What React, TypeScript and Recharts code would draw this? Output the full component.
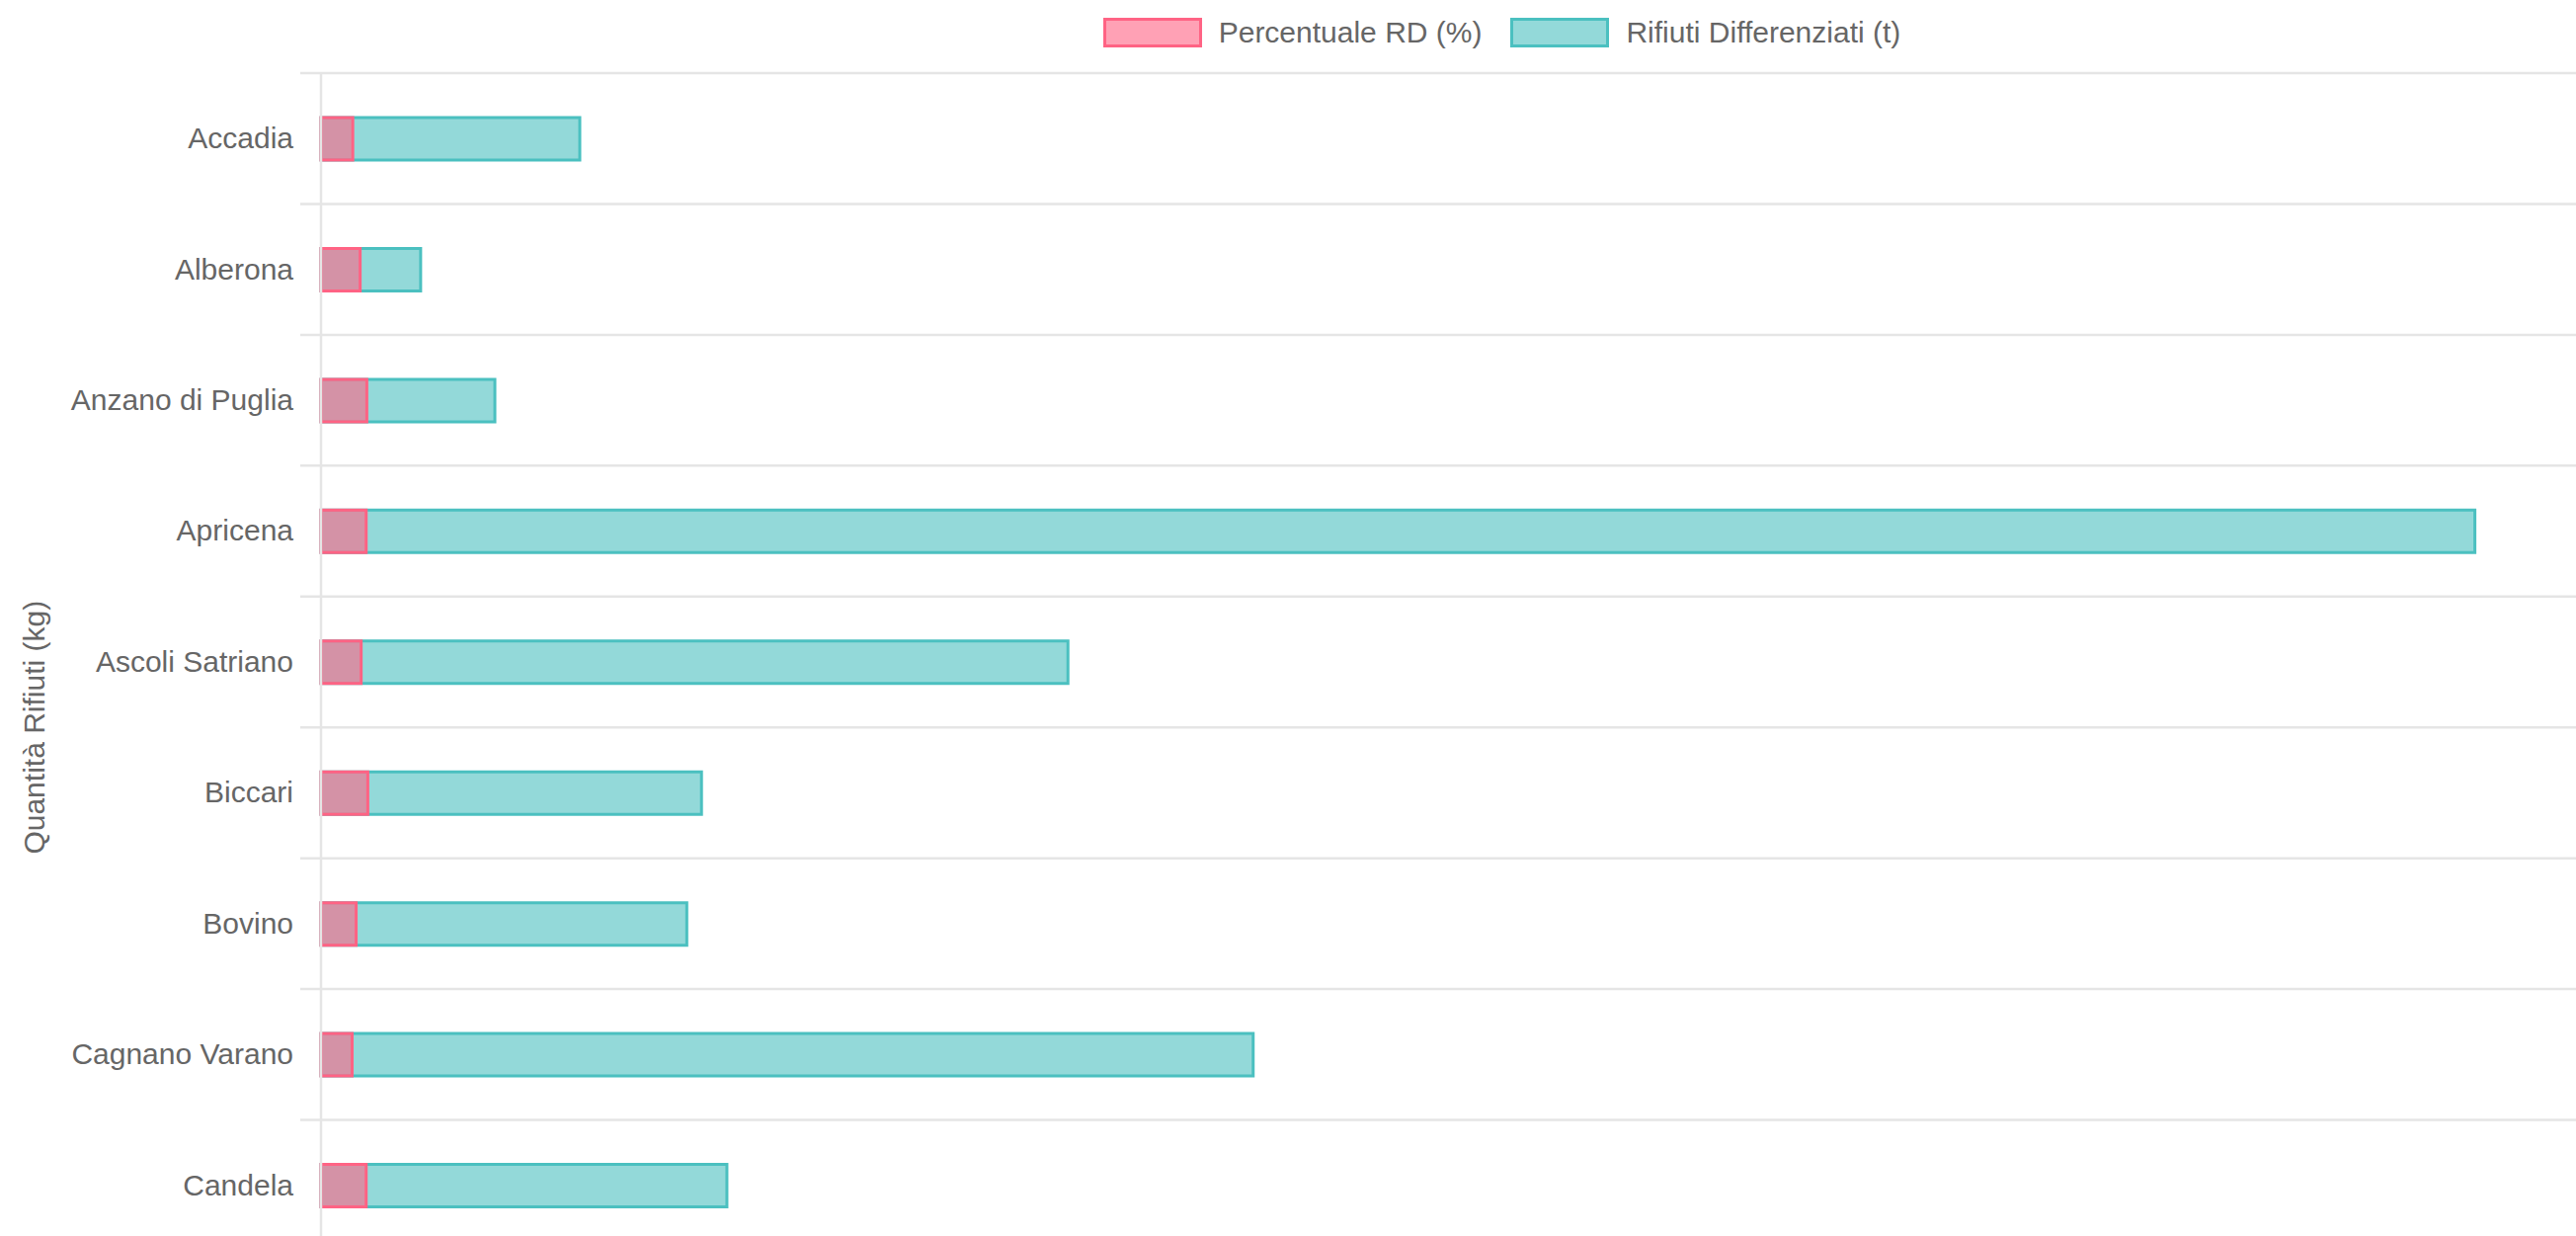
import { BarChart, Bar, XAxis, YAxis, Legend } from 'recharts';

const comuni = [
  'Accadia',
  'Alberona',
  'Anzano di Puglia',
  'Apricena',
  'Ascoli Satriano',
  'Biccari',
  'Bovino',
  'Cagnano Varano',
  'Candela',
];
const percentualeRD = [47.5, 58.5, 68.5, 67.5, 60, 70, 52.5, 46.5, 67.5];
const rifiutiDifferenziati = [387, 149, 260, 3221, 1117, 569, 547, 1394, 607];

const data = comuni.map((name, i) => ({
  name,
  rd: percentualeRD[i],
  rifiuti: rifiutiDifferenziati[i],
}));

const FONT = '"Liberation Sans", Arial, Helvetica, sans-serif';
const TEXT = '#666666';
const GRID = '#e5e5e5';
const PINK = 'rgb(255, 99, 132)';
const TEAL = 'rgb(75, 192, 192)';

const CHART_W = 3042;
const LEGEND_H = 74;
const PLOT_H = 1192;
const BAND = PLOT_H / comuni.length;
const AXIS_W = 325;

const legendItems = [
  { label: 'Percentuale RD (%)', color: PINK, fill: 'rgba(255, 99, 132, 0.6)' },
  { label: 'Rifiuti Differenziati (t)', color: TEAL, fill: 'rgba(75, 192, 192, 0.6)' },
];

const LegendContent = () => (
  <div
    style={{
      height: LEGEND_H,
      display: 'flex',
      justifyContent: 'center',
      alignItems: 'flex-start',
      paddingTop: 18,
      paddingLeft: 8,
      boxSizing: 'border-box',
      fontFamily: FONT,
      fontSize: 30,
      color: TEXT,
    }}
  >
    {legendItems.map((it, i) => (
      <div key={it.label} style={{ display: 'flex', alignItems: 'center', marginLeft: i ? 29 : 0, height: 30 }}>
        <span
          style={{
            width: 100,
            height: 30,
            boxSizing: 'border-box',
            background: it.fill,
            border: `3px solid ${it.color}`,
            marginRight: 17,
          }}
        />
        <span style={{ lineHeight: '30px' }}>{it.label}</span>
      </div>
    ))}
  </div>
);

const CategoryTick = (props: any) => {
  const { x, y, payload } = props;
  const half = payload?.offset || BAND / 2;
  return (
    <g>
      <line x1={x + 7} x2={CHART_W} y1={y - half} y2={y - half} stroke={GRID} strokeWidth={2.5} />
      <text x={x} y={y} dy="0.33em" textAnchor="end" fill={TEXT} fontSize={30} fontFamily={FONT}>
        {payload.value}
      </text>
    </g>
  );
};

const AxisTitle = (props: any) => {
  const vb = props.viewBox ?? { x: 0, y: LEGEND_H, width: AXIS_W, height: PLOT_H };
  const cx = vb.x + 35;
  const cy = vb.y + vb.height / 2 + BAND / 2;
  return (
    <text
      x={cx}
      y={cy}
      transform={`rotate(-90, ${cx}, ${cy})`}
      textAnchor="middle"
      dominantBaseline="central"
      fill={TEXT}
      fontSize={30}
      fontFamily={FONT}
    >
      Quantità Rifiuti (kg)
    </text>
  );
};

export default function App() {
  return (
    <div
      style={{
        position: 'fixed',
        left: 0,
        top: 0,
        width: 2608,
        height: 1251,
        overflow: 'hidden',
        background: '#fff',
      }}
    >
      <BarChart
        width={CHART_W}
        height={LEGEND_H + PLOT_H}
        data={data}
        layout="vertical"
        margin={{ top: 0, right: 9, bottom: 0, left: 0 }}
        barSize={43}
        barGap={-43}
      >
        <Legend verticalAlign="top" align="center" height={LEGEND_H} content={<LegendContent />} />
        <XAxis type="number" domain={[0, 4000]} hide />
        <YAxis
          type="category"
          dataKey="name"
          width={AXIS_W}
          interval={0}
          tickLine={false}
          tickSize={21}
          tickMargin={7}
          axisLine={{ stroke: GRID, strokeWidth: 2.5 }}
          tick={<CategoryTick />}
          label={(p: any) => <AxisTitle {...p} />}
        />
        <Bar dataKey="rifiuti" fill="rgba(75, 192, 192, 0.6)" stroke={TEAL} strokeWidth={3} isAnimationActive={false} />
        <Bar dataKey="rd" fill="rgba(255, 99, 132, 0.6)" stroke={PINK} strokeWidth={3} isAnimationActive={false} />
      </BarChart>
    </div>
  );
}
